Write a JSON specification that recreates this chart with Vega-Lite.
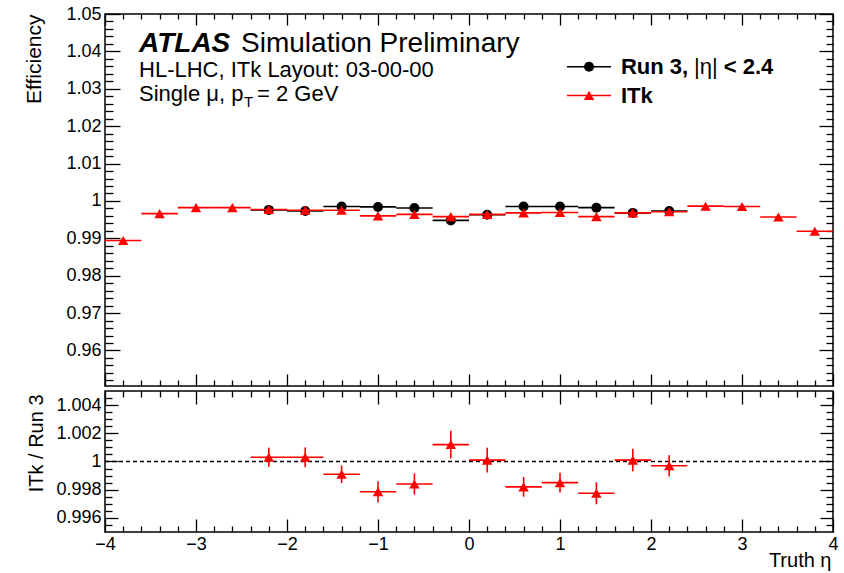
{
  "$schema": "https://vega.github.io/schema/vega-lite/v6.json",
  "padding": {"left": 22, "top": 4, "right": 5, "bottom": 5},
  "background": "white",
  "config": {
    "font": "Liberation Sans",
    "view": {"stroke": "black", "strokeWidth": 1.5},
    "axis": {
      "domain": false, "grid": false, "tickColor": "black", "tickWidth": 1.3,
      "labelColor": "black", "labelFont": "Liberation Sans", "labelFontSize": 18,
      "titleFont": "Liberation Sans", "titleFontSize": 20, "titleFontWeight": "normal", "titleColor": "black",
      "labelOverlap": false, "labelFlush": false, "minExtent": 0
    }
  },
  "datasets": {
    "run3": [
      {"x": -2.2, "xlo": -2.4, "xhi": -2.0, "eff": 0.9976},
      {"x": -1.8, "xlo": -2.0, "xhi": -1.6, "eff": 0.9973},
      {"x": -1.4, "xlo": -1.6, "xhi": -1.2, "eff": 0.9985},
      {"x": -1.0, "xlo": -1.2, "xhi": -0.8, "eff": 0.9984},
      {"x": -0.6, "xlo": -0.8, "xhi": -0.4, "eff": 0.9981},
      {"x": -0.2, "xlo": -0.4, "xhi": 0.0, "eff": 0.9948},
      {"x": 0.2, "xlo": 0.0, "xhi": 0.4, "eff": 0.9963},
      {"x": 0.6, "xlo": 0.4, "xhi": 0.8, "eff": 0.9985},
      {"x": 1.0, "xlo": 0.8, "xhi": 1.2, "eff": 0.9985},
      {"x": 1.4, "xlo": 1.2, "xhi": 1.6, "eff": 0.9982},
      {"x": 1.8, "xlo": 1.6, "xhi": 2.0, "eff": 0.9968},
      {"x": 2.2, "xlo": 2.0, "xhi": 2.4, "eff": 0.9973}
    ],
    "itk": [
      {"x": -3.8, "xlo": -4.0, "xhi": -3.6, "eff": 0.9894},
      {"x": -3.4, "xlo": -3.6, "xhi": -3.2, "eff": 0.9966},
      {"x": -3.0, "xlo": -3.2, "xhi": -2.8, "eff": 0.9982},
      {"x": -2.6, "xlo": -2.8, "xhi": -2.4, "eff": 0.9982},
      {"x": -2.2, "xlo": -2.4, "xhi": -2.0, "eff": 0.9977},
      {"x": -1.8, "xlo": -2.0, "xhi": -1.6, "eff": 0.9975},
      {"x": -1.4, "xlo": -1.6, "xhi": -1.2, "eff": 0.9975},
      {"x": -1.0, "xlo": -1.2, "xhi": -0.8, "eff": 0.996},
      {"x": -0.6, "xlo": -0.8, "xhi": -0.4, "eff": 0.9964},
      {"x": -0.2, "xlo": -0.4, "xhi": 0.0, "eff": 0.9958},
      {"x": 0.2, "xlo": 0.0, "xhi": 0.4, "eff": 0.9964},
      {"x": 0.6, "xlo": 0.4, "xhi": 0.8, "eff": 0.9968},
      {"x": 1.0, "xlo": 0.8, "xhi": 1.2, "eff": 0.9969},
      {"x": 1.4, "xlo": 1.2, "xhi": 1.6, "eff": 0.9958},
      {"x": 1.8, "xlo": 1.6, "xhi": 2.0, "eff": 0.9968},
      {"x": 2.2, "xlo": 2.0, "xhi": 2.4, "eff": 0.9971},
      {"x": 2.6, "xlo": 2.4, "xhi": 2.8, "eff": 0.9986},
      {"x": 3.0, "xlo": 2.8, "xhi": 3.2, "eff": 0.9985},
      {"x": 3.4, "xlo": 3.2, "xhi": 3.6, "eff": 0.9957},
      {"x": 3.8, "xlo": 3.6, "xhi": 4.0, "eff": 0.9919}
    ],
    "ratio": [
      {"x": -2.2, "xlo": -2.4, "xhi": -2.0, "r": 1.0003, "rlo": 0.99962, "rhi": 1.00098},
      {"x": -1.8, "xlo": -2.0, "xhi": -1.6, "r": 1.0003, "rlo": 0.9996, "rhi": 1.001},
      {"x": -1.4, "xlo": -1.6, "xhi": -1.2, "r": 0.9991, "rlo": 0.99847, "rhi": 0.99973},
      {"x": -1.0, "xlo": -1.2, "xhi": -0.8, "r": 0.99785, "rlo": 0.9971, "rhi": 0.9986},
      {"x": -0.6, "xlo": -0.8, "xhi": -0.4, "r": 0.9984, "rlo": 0.99765, "rhi": 0.99915},
      {"x": -0.2, "xlo": -0.4, "xhi": 0.0, "r": 1.0012, "rlo": 1.00022, "rhi": 1.00218},
      {"x": 0.2, "xlo": 0.0, "xhi": 0.4, "r": 1.0001, "rlo": 0.99922, "rhi": 1.00098},
      {"x": 0.6, "xlo": 0.4, "xhi": 0.8, "r": 0.9982, "rlo": 0.9975, "rhi": 0.9989},
      {"x": 1.0, "xlo": 0.8, "xhi": 1.2, "r": 0.9985, "rlo": 0.9978, "rhi": 0.9992},
      {"x": 1.4, "xlo": 1.2, "xhi": 1.6, "r": 0.99775, "rlo": 0.99697, "rhi": 0.99853},
      {"x": 1.8, "xlo": 1.6, "xhi": 2.0, "r": 1.0001, "rlo": 0.9993, "rhi": 1.0009},
      {"x": 2.2, "xlo": 2.0, "xhi": 2.4, "r": 0.9997, "rlo": 0.99895, "rhi": 1.00045}
    ]
  },
  "spacing": 0,
  "vconcat": [
    {
      "width": 728,
      "height": 372,
      "resolve": {"axis": {"x": "independent", "y": "independent"}},
      "layer": [
        {
          "data": {"name": "run3"},
          "mark": {"type": "rule", "color": "black", "strokeWidth": 1.6},
          "encoding": {
            "x": {"field": "xlo", "type": "quantitative", "scale": {"domain": [-4, 4], "nice": false, "zero": false},
              "axis": {"orient": "bottom", "title": null, "labels": false, "minExtent": 0,
                "values": [-4,-3.8,-3.6,-3.4,-3.2,-3,-2.8,-2.6,-2.4,-2.2,-2,-1.8,-1.6,-1.4,-1.2,-1,-0.8,-0.6,-0.4,-0.2,0,0.2,0.4,0.6,0.8,1,1.2,1.4,1.6,1.8,2,2.2,2.4,2.6,2.8,3,3.2,3.4,3.6,3.8,4],
                "tickSize": {"condition": {"test": "abs(datum.value - round(datum.value)) < 1e-6", "value": -12}, "value": -6}}},
            "x2": {"field": "xhi"},
            "y": {"field": "eff", "type": "quantitative", "scale": {"domain": [0.9505, 1.05], "nice": false, "zero": false},
              "axis": {"orient": "left", "title": "Efficiency", "titleFontSize": 21,
                "titleX": -71, "titleY": 0, "titleAngle": -90, "titleAlign": "right", "titleBaseline": "middle",
                "labelPadding": 19,
                "values": [0.954,0.956,0.958,0.96,0.962,0.964,0.966,0.968,0.97,0.972,0.974,0.976,0.978,0.98,0.982,0.984,0.986,0.988,0.99,0.992,0.994,0.996,0.998,1,1.002,1.004,1.006,1.008,1.01,1.012,1.014,1.016,1.018,1.02,1.022,1.024,1.026,1.028,1.03,1.032,1.034,1.036,1.038,1.04,1.042,1.044,1.046,1.048,1.05],
                "labelExpr": "abs(datum.value*100 - round(datum.value*100)) < 1e-6 ? format(datum.value, '~g') : ''",
                "tickSize": {"condition": {"test": "abs(datum.value*100 - round(datum.value*100)) < 1e-6", "value": -15}, "value": -8}}}
          }
        },
        {
          "data": {"name": "run3"},
          "mark": {"type": "point", "shape": "circle", "filled": true, "color": "black", "size": 100, "opacity": 1},
          "encoding": {
            "x": {"field": "x", "type": "quantitative", "scale": {"domain": [-4, 4], "nice": false, "zero": false}, "axis": null},
            "y": {"field": "eff", "type": "quantitative", "scale": {"domain": [0.9505, 1.05], "nice": false, "zero": false},
              "axis": {"orient": "left", "title": null, "labels": false, "minExtent": 0, "values": [0.952], "tickSize": -8}}
          }
        },
        {
          "data": {"name": "itk"},
          "mark": {"type": "rule", "color": "#ff0000", "strokeWidth": 1.6},
          "encoding": {
            "x": {"field": "xlo", "type": "quantitative", "scale": {"domain": [-4, 4], "nice": false, "zero": false},
              "axis": {"orient": "top", "title": null, "labels": false, "minExtent": 0,
                "values": [-4,-3.8,-3.6,-3.4,-3.2,-3,-2.8,-2.6,-2.4,-2.2,-2,-1.8,-1.6,-1.4,-1.2,-1,-0.8,-0.6,-0.4,-0.2,0,0.2,0.4,0.6,0.8,1,1.2,1.4,1.6,1.8,2,2.2,2.4,2.6,2.8,3,3.2,3.4,3.6,3.8,4],
                "tickSize": {"condition": {"test": "abs(datum.value - round(datum.value)) < 1e-6", "value": -11}, "value": -5}}},
            "x2": {"field": "xhi"},
            "y": {"field": "eff", "type": "quantitative", "scale": {"domain": [0.9505, 1.05], "nice": false, "zero": false},
              "axis": {"orient": "right", "title": null, "labels": false, "minExtent": 0,
                "values": [0.952,0.954,0.956,0.958,0.96,0.962,0.964,0.966,0.968,0.97,0.972,0.974,0.976,0.978,0.98,0.982,0.984,0.986,0.988,0.99,0.992,0.994,0.996,0.998,1,1.002,1.004,1.006,1.008,1.01,1.012,1.014,1.016,1.018,1.02,1.022,1.024,1.026,1.028,1.03,1.032,1.034,1.036,1.038,1.04,1.042,1.044,1.046,1.048,1.05],
                "tickSize": {"condition": {"test": "abs(datum.value*100 - round(datum.value*100)) < 1e-6", "value": -14}, "value": -7}}}
          }
        },
        {
          "data": {"name": "itk"},
          "mark": {"type": "point", "shape": "triangle-up", "filled": true, "color": "#ff0000", "size": 110, "opacity": 1},
          "encoding": {
            "x": {"field": "x", "type": "quantitative", "scale": {"domain": [-4, 4], "nice": false, "zero": false}, "axis": null},
            "y": {"field": "eff", "type": "quantitative", "scale": {"domain": [0.9505, 1.05], "nice": false, "zero": false}, "axis": null}
          }
        },
        {
          "data": {"values": [{}]},
          "layer": [
            {"mark": {"type": "text", "text": "ATLAS", "fontSize": 28, "fontWeight": "bold", "fontStyle": "italic", "align": "left", "baseline": "alphabetic", "color": "black"},
             "encoding": {"x": {"datum": -3.626, "type": "quantitative", "scale": {"domain": [-4, 4], "nice": false, "zero": false}, "axis": null},
                          "y": {"datum": 1.0399, "type": "quantitative", "scale": {"domain": [0.9505, 1.05], "nice": false, "zero": false}, "axis": null}}},
            {"mark": {"type": "text", "text": "Simulation Preliminary", "fontSize": 28, "align": "left", "baseline": "alphabetic", "color": "black"},
             "encoding": {"x": {"datum": -2.505, "type": "quantitative", "scale": {"domain": [-4, 4], "nice": false, "zero": false}, "axis": null},
                          "y": {"datum": 1.0399, "type": "quantitative", "scale": {"domain": [0.9505, 1.05], "nice": false, "zero": false}, "axis": null}}},
            {"mark": {"type": "text", "text": "HL-LHC, ITk Layout: 03-00-00", "fontSize": 22, "align": "left", "baseline": "alphabetic", "color": "black"},
             "encoding": {"x": {"datum": -3.626, "type": "quantitative", "scale": {"domain": [-4, 4], "nice": false, "zero": false}, "axis": null},
                          "y": {"datum": 1.0332, "type": "quantitative", "scale": {"domain": [0.9505, 1.05], "nice": false, "zero": false}, "axis": null}}},
            {"mark": {"type": "text", "text": "Single μ, p", "fontSize": 22, "align": "left", "baseline": "alphabetic", "color": "black"},
             "encoding": {"x": {"datum": -3.626, "type": "quantitative", "scale": {"domain": [-4, 4], "nice": false, "zero": false}, "axis": null},
                          "y": {"datum": 1.0268, "type": "quantitative", "scale": {"domain": [0.9505, 1.05], "nice": false, "zero": false}, "axis": null}}},
            {"mark": {"type": "text", "text": "T", "fontSize": 15, "align": "left", "baseline": "alphabetic", "color": "black"},
             "encoding": {"x": {"datum": -2.473, "type": "quantitative", "scale": {"domain": [-4, 4], "nice": false, "zero": false}, "axis": null},
                          "y": {"datum": 1.025, "type": "quantitative", "scale": {"domain": [0.9505, 1.05], "nice": false, "zero": false}, "axis": null}}},
            {"mark": {"type": "text", "text": "= 2 GeV", "fontSize": 22, "align": "left", "baseline": "alphabetic", "color": "black"},
             "encoding": {"x": {"datum": -2.33, "type": "quantitative", "scale": {"domain": [-4, 4], "nice": false, "zero": false}, "axis": null},
                          "y": {"datum": 1.0268, "type": "quantitative", "scale": {"domain": [0.9505, 1.05], "nice": false, "zero": false}, "axis": null}}},
            {"mark": {"type": "rule", "color": "black", "strokeWidth": 1.6},
             "encoding": {"x": {"datum": 1.077, "type": "quantitative", "scale": {"domain": [-4, 4], "nice": false, "zero": false}, "axis": null},
                          "x2": {"datum": 1.56},
                          "y": {"datum": 1.0359, "type": "quantitative", "scale": {"domain": [0.9505, 1.05], "nice": false, "zero": false}, "axis": null}}},
            {"mark": {"type": "rule", "color": "black", "strokeWidth": 1.6},
             "encoding": {"x": {"datum": 1.319, "type": "quantitative", "scale": {"domain": [-4, 4], "nice": false, "zero": false}, "axis": null},
                          "y": {"datum": 1.0349, "type": "quantitative", "scale": {"domain": [0.9505, 1.05], "nice": false, "zero": false}, "axis": null},
                          "y2": {"datum": 1.0369}}},
            {"mark": {"type": "point", "shape": "circle", "filled": true, "color": "black", "size": 100, "opacity": 1},
             "encoding": {"x": {"datum": 1.319, "type": "quantitative", "scale": {"domain": [-4, 4], "nice": false, "zero": false}, "axis": null},
                          "y": {"datum": 1.0359, "type": "quantitative", "scale": {"domain": [0.9505, 1.05], "nice": false, "zero": false}, "axis": null}}},
            {"mark": {"type": "text", "text": "Run 3,", "fontSize": 22, "fontWeight": "bold", "align": "left", "baseline": "middle", "color": "black"},
             "encoding": {"x": {"datum": 1.67, "type": "quantitative", "scale": {"domain": [-4, 4], "nice": false, "zero": false}, "axis": null},
                          "y": {"datum": 1.0359, "type": "quantitative", "scale": {"domain": [0.9505, 1.05], "nice": false, "zero": false}, "axis": null}}},
            {"mark": {"type": "text", "text": "|η|", "fontSize": 22, "align": "left", "baseline": "middle", "color": "black"},
             "encoding": {"x": {"datum": 2.473, "type": "quantitative", "scale": {"domain": [-4, 4], "nice": false, "zero": false}, "axis": null},
                          "y": {"datum": 1.0359, "type": "quantitative", "scale": {"domain": [0.9505, 1.05], "nice": false, "zero": false}, "axis": null}}},
            {"mark": {"type": "text", "text": "< 2.4", "fontSize": 22, "fontWeight": "bold", "align": "left", "baseline": "middle", "color": "black"},
             "encoding": {"x": {"datum": 2.8, "type": "quantitative", "scale": {"domain": [-4, 4], "nice": false, "zero": false}, "axis": null},
                          "y": {"datum": 1.0359, "type": "quantitative", "scale": {"domain": [0.9505, 1.05], "nice": false, "zero": false}, "axis": null}}},
            {"mark": {"type": "rule", "color": "#ff0000", "strokeWidth": 1.6},
             "encoding": {"x": {"datum": 1.077, "type": "quantitative", "scale": {"domain": [-4, 4], "nice": false, "zero": false}, "axis": null},
                          "x2": {"datum": 1.56},
                          "y": {"datum": 1.0282, "type": "quantitative", "scale": {"domain": [0.9505, 1.05], "nice": false, "zero": false}, "axis": null}}},
            {"mark": {"type": "rule", "color": "#ff0000", "strokeWidth": 1.6},
             "encoding": {"x": {"datum": 1.319, "type": "quantitative", "scale": {"domain": [-4, 4], "nice": false, "zero": false}, "axis": null},
                          "y": {"datum": 1.0272, "type": "quantitative", "scale": {"domain": [0.9505, 1.05], "nice": false, "zero": false}, "axis": null},
                          "y2": {"datum": 1.0292}}},
            {"mark": {"type": "point", "shape": "triangle-up", "filled": true, "color": "#ff0000", "size": 110, "opacity": 1},
             "encoding": {"x": {"datum": 1.319, "type": "quantitative", "scale": {"domain": [-4, 4], "nice": false, "zero": false}, "axis": null},
                          "y": {"datum": 1.0282, "type": "quantitative", "scale": {"domain": [0.9505, 1.05], "nice": false, "zero": false}, "axis": null}}},
            {"mark": {"type": "text", "text": "ITk", "fontSize": 22, "fontWeight": "bold", "align": "left", "baseline": "middle", "color": "black"},
             "encoding": {"x": {"datum": 1.67, "type": "quantitative", "scale": {"domain": [-4, 4], "nice": false, "zero": false}, "axis": null},
                          "y": {"datum": 1.0282, "type": "quantitative", "scale": {"domain": [0.9505, 1.05], "nice": false, "zero": false}, "axis": null}}}
          ]
        }
      ]
    },
    {
      "width": 728,
      "height": 141,
      "resolve": {"axis": {"x": "independent", "y": "independent"}},
      "layer": [
        {
          "data": {"values": [{}]},
          "mark": {"type": "rule", "color": "black", "strokeWidth": 1.3, "strokeDash": [4, 3]},
          "encoding": {
            "x": {"datum": -4, "type": "quantitative", "scale": {"domain": [-4, 4], "nice": false, "zero": false},
              "axis": {"orient": "bottom", "title": "Truth η", "titleAnchor": "end", "titleAlign": "right", "titleX": 726, "titleY": 34, "titleBaseline": "alphabetic",
                "labelPadding": 16,
                "values": [-4,-3.8,-3.6,-3.4,-3.2,-3,-2.8,-2.6,-2.4,-2.2,-2,-1.8,-1.6,-1.4,-1.2,-1,-0.8,-0.6,-0.4,-0.2,0,0.2,0.4,0.6,0.8,1,1.2,1.4,1.6,1.8,2,2.2,2.4,2.6,2.8,3,3.2,3.4,3.6,3.8,4],
                "labelExpr": "abs(datum.value - round(datum.value)) < 1e-6 ? format(datum.value, 'd') : ''",
                "tickSize": {"condition": {"test": "abs(datum.value - round(datum.value)) < 1e-6", "value": -13}, "value": -6}}},
            "x2": {"datum": 4},
            "y": {"datum": 1, "type": "quantitative", "scale": {"domain": [0.995, 1.005], "nice": false, "zero": false},
              "axis": {"orient": "left", "title": "ITk / Run 3", "titleFontSize": 20,
                "titleX": -69, "titleY": 3, "titleAngle": -90, "titleAlign": "right", "titleBaseline": "middle",
                "labelPadding": 17,
                "values": [0.9955,0.996,0.9965,0.997,0.9975,0.998,0.9985,0.999,0.9995,1,1.0005,1.001,1.0015,1.002,1.0025,1.003,1.0035,1.004,1.0045],
                "labelExpr": "abs(datum.value*500 - round(datum.value*500)) < 1e-6 ? format(datum.value, '~g') : ''",
                "tickSize": {"condition": {"test": "abs(datum.value*500 - round(datum.value*500)) < 1e-6", "value": -13}, "value": -7}}}
          }
        },
        {
          "data": {"name": "ratio"},
          "mark": {"type": "rule", "color": "#ff0000", "strokeWidth": 1.6},
          "encoding": {
            "x": {"field": "xlo", "type": "quantitative", "scale": {"domain": [-4, 4], "nice": false, "zero": false},
              "axis": {"orient": "top", "title": null, "labels": false, "minExtent": 0,
                "values": [-4,-3.8,-3.6,-3.4,-3.2,-3,-2.8,-2.6,-2.4,-2.2,-2,-1.8,-1.6,-1.4,-1.2,-1,-0.8,-0.6,-0.4,-0.2,0,0.2,0.4,0.6,0.8,1,1.2,1.4,1.6,1.8,2,2.2,2.4,2.6,2.8,3,3.2,3.4,3.6,3.8,4],
                "tickSize": {"condition": {"test": "abs(datum.value - round(datum.value)) < 1e-6", "value": -13}, "value": -6}}},
            "x2": {"field": "xhi"},
            "y": {"field": "r", "type": "quantitative", "scale": {"domain": [0.995, 1.005], "nice": false, "zero": false},
              "axis": {"orient": "right", "title": null, "labels": false, "minExtent": 0,
                "values": [0.9955,0.996,0.9965,0.997,0.9975,0.998,0.9985,0.999,0.9995,1,1.0005,1.001,1.0015,1.002,1.0025,1.003,1.0035,1.004,1.0045],
                "tickSize": {"condition": {"test": "abs(datum.value*500 - round(datum.value*500)) < 1e-6", "value": -13}, "value": -7}}}
          }
        },
        {
          "data": {"name": "ratio"},
          "mark": {"type": "rule", "color": "#ff0000", "strokeWidth": 1.6},
          "encoding": {
            "x": {"field": "x", "type": "quantitative", "scale": {"domain": [-4, 4], "nice": false, "zero": false}, "axis": null},
            "y": {"field": "rlo", "type": "quantitative", "scale": {"domain": [0.995, 1.005], "nice": false, "zero": false}, "axis": null},
            "y2": {"field": "rhi"}
          }
        },
        {
          "data": {"name": "ratio"},
          "mark": {"type": "point", "shape": "triangle-up", "filled": true, "color": "#ff0000", "size": 110, "opacity": 1},
          "encoding": {
            "x": {"field": "x", "type": "quantitative", "scale": {"domain": [-4, 4], "nice": false, "zero": false}, "axis": null},
            "y": {"field": "r", "type": "quantitative", "scale": {"domain": [0.995, 1.005], "nice": false, "zero": false}, "axis": null}
          }
        }
      ]
    }
  ]
}
